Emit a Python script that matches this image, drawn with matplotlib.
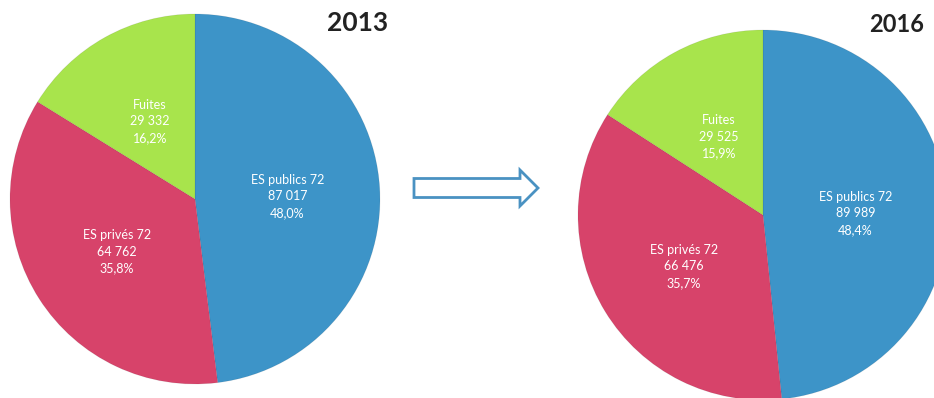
import matplotlib
matplotlib.use("Agg")
import matplotlib.pyplot as plt
from matplotlib.patches import FancyArrow

plt.rcParams['font.family'] = ['Lato', 'DejaVu Sans']

categories = ["ES publics 72", "ES privés 72", "Fuites"]
values_2013 = [87017, 64762, 29332]
values_2016 = [89989, 66476, 29525]
pct_2013 = ["48,0%", "35,8%", "16,2%"]
pct_2016 = ["48,4%", "35,7%", "15,9%"]
colors = ["#3d94c8", "#d7436a", "#a8e44c"]
years = ["2013", "2016"]

W, H = 934, 398
fig = plt.figure(figsize=(W / 100, H / 100), dpi=100)
ax = fig.add_axes([0, 0, 1, 1])


def fmt(v):
    return f"{v:,}".replace(",", " ")


def draw_pie(values, pcts, center, radius):
    labels = [f"{c}\n{fmt(v)}\n{p}" for c, v, p in zip(categories, values, pcts)]
    wedges, texts = ax.pie(values, colors=colors, startangle=90, counterclock=False,
                           center=center, radius=radius, labels=labels,
                           labeldistance=0.5, frame=True,
                           wedgeprops=dict(linewidth=0.6, edgecolor=(0, 0, 0, 0.08)),
                           textprops=dict(color="white", fontsize=9, ha="center",
                                          va="center", linespacing=1.45))
    for t in texts:
        t.set_horizontalalignment("center")
        x, y = t.get_position()
        t.set_position((x, y - 3))


draw_pie(values_2013, pct_2013, (195, 199), 185)
draw_pie(values_2016, pct_2016, (763, 183), 185)
ax.set_xlim(0, W)
ax.set_ylim(0, H)
ax.set_aspect('equal')
ax.axis('off')

ax.text(358, H - 23, years[0], fontsize=19, fontweight="bold", color="#222222",
        ha="center", va="center")
ax.text(897, H - 24, years[1], fontsize=17, fontweight="bold", color="#222222",
        ha="center", va="center")

arrow = FancyArrow(414, H - 188, 124, 0, width=19, head_width=36, head_length=18,
                   length_includes_head=True, facecolor="white", edgecolor="#4a92c2",
                   linewidth=2)
ax.add_patch(arrow)

fig.savefig("out.png", dpi=100)
